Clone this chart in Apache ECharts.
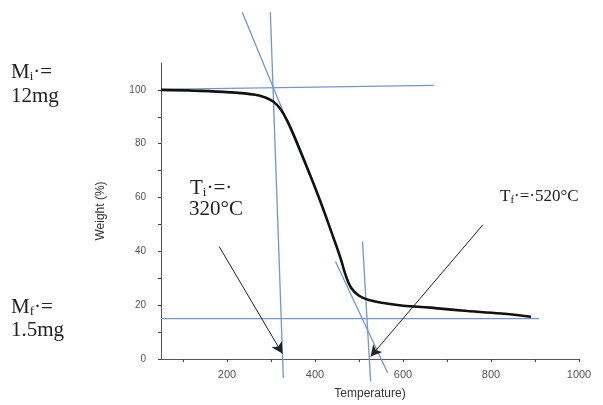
<!DOCTYPE html>
<html><head><meta charset="utf-8">
<script src="https://cdn.jsdelivr.net/npm/echarts@6/dist/echarts.min.js"></script>
<style>html,body{margin:0;padding:0;background:#fff}#c{width:603px;height:405px}</style>
</head><body><div id="c"></div>
<script>
// TGA curve (temperature °C, weight %)
const temps   = [50, 127, 207, 264, 287, 305, 321, 337, 360, 408, 442, 458, 470, 482, 500, 525, 560, 600, 663, 732, 823, 891];
const weights = [100, 99.7, 99.1, 98.2, 97.2, 95.7, 93.0, 88.5, 80.0, 60.4, 45.0, 37.5, 31.0, 26.5, 23.5, 21.8, 20.7, 19.8, 19.1, 18.0, 16.9, 15.7];

// tangent / construction lines [[x1,y1],[x2,y2]]
const lineInitSlope = [[234.6, 128.9], [387, 68.5]];
const lineTi        = [[298.5, 128.9], [328, -7]];
const lineMi        = [[50, 100.2], [670, 101.7]];
const lineMf        = [[50, 15.0], [909, 15.0]];
const lineTf        = [[508, 43.7], [526.4, -8.4]];
const lineEndSlope  = [[446.6, 36.2], [565, -5.1]];

// arrows [[fromX,fromY],[toX,toY]]
const arrowTi = [[182.2, 41.8], [325.8, 2.0]];
const arrowTf = [[781.7, 49.9], [526.4, 0.9]];

const xTicks  = [100, 200, 300, 400, 500, 600, 700, 800, 900, 1000];
const xLabels = [200, 400, 600, 800, 1000];
const yTicks  = [0, 10, 20, 30, 40, 50, 60, 70, 80, 90, 100];
const yLabels = [0, 20, 40, 60, 80, 100];

const blue = '#7396cc';
function guide(pts) {
  return { type: 'line', data: pts, clip: false, symbol: 'none', silent: true,
           lineStyle: { color: blue, width: 1.3 }, z: 3 };
}
function arrow(a) {
  return [{ coord: a[0], symbol: 'none' }, { coord: a[1], symbol: 'arrow' }];
}

const serif = '"Liberation Serif","Times New Roman",serif';
function rich(fs) {
  return {
    a: { fontFamily: serif, fontSize: fs, color: '#222' },
    s: { fontFamily: serif, fontSize: Math.round(fs * 0.62), color: '#222', padding: [Math.round(fs * 0.45), 0, 0, 0] }
  };
}
function txt(left, top, str, fs) {
  return { type: 'text', left: left, top: top,
           style: { text: str, rich: rich(fs), fontFamily: serif, fontSize: fs, fill: '#222' } };
}

const sans = 'Liberation Sans, Arial, sans-serif';
const chart = echarts.init(document.getElementById('c'));
chart.setOption({
  animation: false,
  backgroundColor: '#fff',
  grid: { left: 161, right: 24, top: 63, bottom: 46 },
  xAxis: {
    type: 'value', min: 50, max: 1000,
    name: 'Temperature)', nameLocation: 'middle', nameGap: 29,
    nameTextStyle: { fontFamily: sans, fontSize: 12, color: '#333' },
    axisLine: { lineStyle: { color: '#555', width: 1 } },
    axisTick: { show: true, length: 3, customValues: xTicks, lineStyle: { color: '#444' } },
    axisLabel: { customValues: xLabels, formatter: v => String(v), fontFamily: sans, fontSize: 11, color: '#555', margin: 10 },
    splitLine: { show: false }
  },
  yAxis: {
    type: 'value', min: 0, max: 110,
    name: 'Weight (%)', nameLocation: 'middle', nameGap: 54, nameRotate: 90,
    nameTextStyle: { fontFamily: sans, fontSize: 12, color: '#333' },
    axisLine: { show: true, lineStyle: { color: '#555', width: 1 } },
    axisTick: { show: true, length: 3, customValues: yTicks, lineStyle: { color: '#444' } },
    axisLabel: { customValues: yLabels, formatter: v => String(v), fontFamily: sans, fontSize: 10, color: '#555', margin: 15 },
    splitLine: { show: false }
  },
  series: [
    guide(lineMi), guide(lineMf), guide(lineInitSlope), guide(lineTi), guide(lineTf), guide(lineEndSlope),
    {
      type: 'line', data: temps.map((t, i) => [t, weights[i]]), smooth: 0.4, symbol: 'none',
      lineStyle: { color: '#111', width: 2.6 }, z: 5,
      markLine: {
        silent: true, symbolSize: [9, 11], label: { show: false },
        lineStyle: { color: '#222', width: 1, type: 'solid' },
        data: [arrow(arrowTi), arrow(arrowTf)]
      }
    }
  ],
  graphic: [
    txt(11, 62, '{a|M}{s|i}{a|·=}', 21),
    txt(11, 86, '{a|12mg}', 21),
    txt(190, 178, '{a|T}{s|i}{a|·=·}', 21),
    txt(189, 199, '{a|320°C}', 21),
    txt(500, 188, '{a|T}{s|f}{a|·=·520°C}', 17),
    txt(11, 297, '{a|M}{s|f}{a|·=}', 21),
    txt(11, 320, '{a|1.5mg}', 21)
  ]
});
</script></body></html>
